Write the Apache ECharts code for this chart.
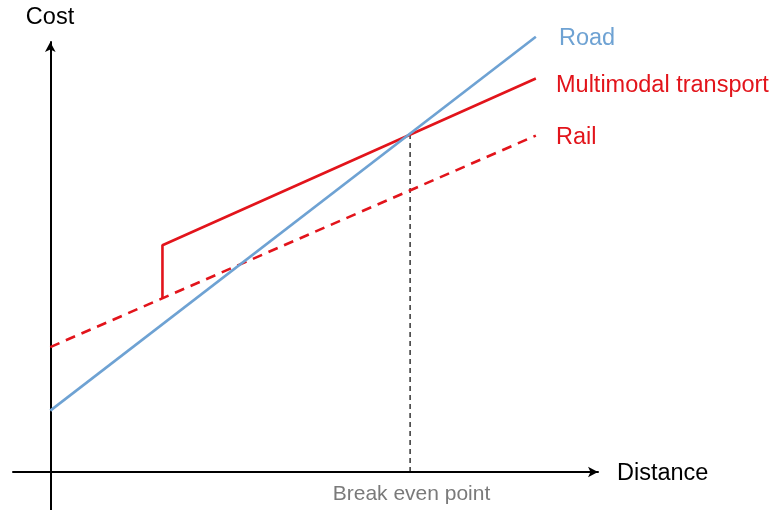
<!DOCTYPE html>
<html>
<head>
<meta charset="utf-8">
<script src="https://cdn.jsdelivr.net/npm/echarts@6/dist/echarts.min.js"></script>
<style>html,body{margin:0;padding:0;background:#fff}#c{width:775px;height:510px}</style>
</head>
<body>
<div id="c"></div>
<script>
// Data (arbitrary units: distance 0..100, cost 0..100)
const seriesNames = ['Road', 'Multimodal transport', 'Rail'];
const roadX = [0, 100];
const roadY = [14.1, 100];
const multiX = [23.1, 23.1, 100];
const multiY = [39.9, 52.1, 90.4];
const railX = [0, 100];
const railY = [28.7, 77.3];
const breakEvenX = 74.1;
const breakEvenY = 77.7;
const axisNames = ['Distance', 'Cost'];
const breakEvenLabel = 'Break even point';

const zip = (xs, ys) => xs.map((x, i) => [x, ys[i]]);

const BLUE = '#6ea2d3';
const RED = '#e2141b';
const FONT = '"Liberation Sans", Arial, sans-serif';

const chart = echarts.init(document.getElementById('c'));
chart.setOption({
  animation: false,
  grid: { left: 13, right: 177, top: 42, bottom: 0, containLabel: false },
  xAxis: {
    type: 'value', min: -7.68, max: 112.8,
    axisLine: { onZero: true, lineStyle: { color: '#000', width: 2 }, symbol: ['none', 'arrow'], symbolSize: [8, 10] },
    axisTick: { show: false }, axisLabel: { show: false }, splitLine: { show: false }
  },
  yAxis: {
    type: 'value', min: -8.73, max: 98.8,
    axisLine: { onZero: true, lineStyle: { color: '#000', width: 2 }, symbol: ['none', 'arrow'], symbolSize: [8, 10] },
    axisTick: { show: false }, axisLabel: { show: false }, splitLine: { show: false }
  },
  series: [
    { name: seriesNames[0], type: 'line', data: zip(roadX, roadY), showSymbol: false, clip: false,
      lineStyle: { color: BLUE, width: 2.6 }, z: 3 },
    { name: seriesNames[1], type: 'line', data: zip(multiX, multiY), showSymbol: false, clip: false,
      lineStyle: { color: RED, width: 2.6 }, z: 2 },
    { name: seriesNames[2], type: 'line', data: zip(railX, railY), showSymbol: false, clip: false,
      lineStyle: { color: RED, width: 2.6, type: [10, 7] }, z: 2 },
    { name: 'breakEven', type: 'line', data: [[breakEvenX, 0], [breakEvenX, breakEvenY]], showSymbol: false, clip: false,
      lineStyle: { color: '#000', width: 1.2, type: [5, 4] }, z: 1 }
  ],
  graphic: [
    { type: 'text', style: { text: axisNames[1], x: 50, y: 18, align: 'center', verticalAlign: 'middle', font: '23.5px ' + FONT, fill: '#000' } },
    { type: 'text', style: { text: axisNames[0], x: 617, y: 473.5, align: 'left', verticalAlign: 'middle', font: '23.5px ' + FONT, fill: '#000' } },
    { type: 'text', style: { text: breakEvenLabel, x: 411.5, y: 494, align: 'center', verticalAlign: 'middle', font: '21px ' + FONT, fill: '#7a7a7a' } },
    { type: 'text', style: { text: seriesNames[0], x: 559, y: 38.5, align: 'left', verticalAlign: 'middle', font: '23.5px ' + FONT, fill: BLUE } },
    { type: 'text', style: { text: seriesNames[1], x: 556, y: 85.5, align: 'left', verticalAlign: 'middle', font: '23.5px ' + FONT, fill: RED } },
    { type: 'text', style: { text: seriesNames[2], x: 556, y: 137.5, align: 'left', verticalAlign: 'middle', font: '23.5px ' + FONT, fill: RED } }
  ]
});
</script>
</body>
</html>
